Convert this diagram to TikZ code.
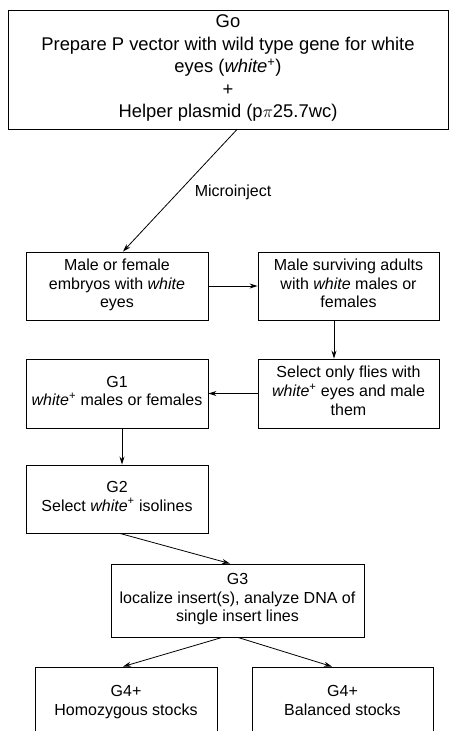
\documentclass[tikz,border=0pt]{standalone}
\usepackage{fontspec}
\setmainfont{Liberation Sans}
\usetikzlibrary{arrows.meta}
\begin{document}
\begin{tikzpicture}[x=1pt,y=-1pt,
  box/.style={draw=black, line width=0.9pt, align=center, inner sep=2pt,
    font=\fontsize{16}{18.6}\selectfont},
  conn/.style={line width=0.8pt, -{Stealth[length=8pt,width=5pt]}}]
\clip (0,0) rectangle (449,731);
\fill[white] (0,0) rectangle (449,731);
\node[box, minimum width=440pt, minimum height=118.5pt,
  font=\fontsize{18.4}{22.5}\selectfont] (top) at (228,69.75)
  {Go\\Prepare P vector with wild type gene for white\\eyes (\textit{white}\textsuperscript{+})\\+\\Helper plasmid (p$\pi$25.7wc)\strut};
\node[box, minimum width=182pt, minimum height=68pt] (emb) at (117,286)
  {Male or female\\embryos with \textit{white}\\eyes\strut};
\node[box, minimum width=181pt, minimum height=68pt] (adu) at (348.5,286)
  {Male surviving adults\\with \textit{white} males or\\females\strut};
\node[box, minimum width=181pt, minimum height=69pt] (sel) at (348.5,393.5)
  {Select only flies with\\\textit{white}\textsuperscript{+} eyes and male\\them\strut};
\node[box, minimum width=182pt, minimum height=69pt] (g1) at (117,393.5)
  {G1\\\textit{white}\textsuperscript{+} males or females\strut};
\node[box, minimum width=182pt, minimum height=68pt] (g2) at (117,499)
  {G2\\Select \textit{white}\textsuperscript{+} isolines\strut};
\node[box, minimum width=253pt, minimum height=73pt] (g3) at (237.5,600.5)
  {G3\\localize insert(s), analyze DNA of\\single insert lines\strut};
\node[box, minimum width=182pt, minimum height=72pt] (hom) at (126,703)
  {G4+\\Homozygous stocks\strut};
\node[box, minimum width=181pt, minimum height=72pt] (bal) at (342.5,703)
  {G4+\\Balanced stocks\strut};
\node[font=\fontsize{16}{19}\selectfont] (mi) at (233,192) {Microinject};
\draw[conn] ([xshift=9pt]top.south) -- ([xshift=6pt]emb.north);
\draw[conn] (emb.east) -- (adu.west);
\draw[conn] ([xshift=-14.5pt]adu.south) -- ([xshift=-14.5pt]sel.north);
\draw[conn] (sel.west) -- (g1.east);
\draw[conn] ([xshift=5pt]g1.south) -- ([xshift=5pt]g2.north);
\draw[conn] ([xshift=3pt]g2.south) -- ([xshift=-7.5pt]g3.north);
\draw[conn] ([xshift=-15.5pt]g3.south) -- ([xshift=-3pt]hom.north);
\draw[conn] ([xshift=0.5pt]g3.south) -- ([xshift=-10.5pt]bal.north);
\end{tikzpicture}
\end{document}
